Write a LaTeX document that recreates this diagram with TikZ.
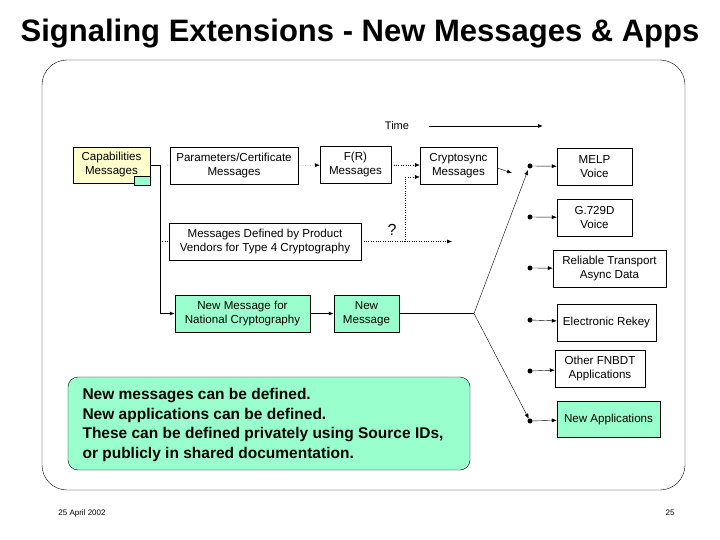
\documentclass[tikz,border=0pt]{standalone}
\usepackage{fontspec}
\setmainfont{Liberation Sans}
\usetikzlibrary{arrows.meta}
\definecolor{note}{HTML}{99FFCC}
\definecolor{capy}{HTML}{FFFFCC}
\begin{document}
\begin{tikzpicture}[x=1pt,y=-1pt,
 box/.style={draw,thin,align=center,font=\fontsize{11.6}{14}\selectfont,inner sep=1pt},
 dot/.style={circle,fill,inner sep=0pt,minimum size=5pt},
 arr/.style={-{Latex[length=5pt,width=4pt]}},
 dots/.style={dotted}]
\useasboundingbox (0,0) rectangle (720,540);
\node[font=\bfseries\fontsize{31}{34}\selectfont] (title) at (360,34) {Signaling Extensions - New Messages \& Apps};
\draw[rounded corners=25pt] (42,60) rectangle (685,490);
\node[font=\fontsize{11}{13}\selectfont] (time) at (397,126) {Time};
\coordinate (t1) at (429,126); \coordinate (t2) at (543,126);
\draw[arr,thick] (t1) -- (t2);
\node[box,fill=capy,minimum width=77,minimum height=36] (cap) at (111.5,165) {Capabilities\\Messages};
\node[draw,fill=note,minimum width=16,minimum height=9,inner sep=0] (capsq) at (142,180.5) {};
\node[box,minimum width=128,minimum height=37] (par) at (234,165.5) {Parameters/Certificate\\Messages};
\node[box,minimum width=71,minimum height=37] (fr) at (355.5,165) {F(R)\\Messages};
\node[box,minimum width=77,minimum height=37] (cs) at (458.5,165.5) {Cryptosync\\Messages};
\node[box,minimum width=192,minimum height=37] (mdp) at (265,241.5) {Messages Defined by Product\\Vendors for Type 4 Cryptography};
\node[box,fill=note,minimum width=135,minimum height=37] (nat) at (242.5,313.5) {New Message for\\National Cryptography};
\node[box,fill=note,minimum width=65,minimum height=37] (nm) at (366.5,313.5) {New\\Message};
\node[box,minimum width=75,minimum height=37] (melp) at (594.5,166.5) {MELP\\Voice};
\node[box,minimum width=75,minimum height=37] (g729) at (594.5,217.5) {G.729D\\Voice};
\node[box,minimum width=113,minimum height=37] (rel) at (609.5,268.5) {Reliable Transport\\Async Data};
\node[box,minimum width=99,minimum height=37] (rek) at (606.5,322.5) {Electronic Rekey};
\node[box,minimum width=90,minimum height=37] (oth) at (600,368.5) {Other FNBDT\\Applications};
\node[box,fill=note,minimum width=103,minimum height=36] (napp) at (608.5,419) {New Applications};
\node[draw,fill=note,rounded corners=10pt,minimum width=402,minimum height=93,inner sep=0] (notebox) at (269,423.5) {};
\node[font=\bfseries\fontsize{15.5}{19.5}\selectfont,align=left,anchor=west] (notetxt) at (79,425) {New messages can be defined.\\New applications can be defined.\\These can be defined privately using Source IDs,\\or publicly in shared documentation.};
\node[font=\fontsize{8}{9}\selectfont] (date) at (82,513) {25 April 2002};
\node[font=\fontsize{8}{9}\selectfont] (pg) at (670,513) {25};
\foreach \n/\y in {d1/166,d2/217,d3/268,d4/320,d5/371,d6/421} \node[dot] (\n) at (530,\y) {};
\draw[arr] (d1) -- (melp);
\draw[arr] (d2) -- (g729);
\draw[arr] (d3) -- (rel);
\draw[arr] (d4) -- (rek);
\draw[arr] (d5) -- (oth);
\draw[arr] (d6) -- (napp);
\coordinate (j) at (160,165);
\coordinate (jm) at (160,241.5);
\coordinate (jn) at (160,313.5);
\draw (cap.east |- j) -- (j);
\draw[dots] (j) -- (par);
\draw[thick,arr] (j) -- (jn) -- (nat);
\draw[dots] (jm) -- (mdp);
\draw[dots,arr] (par) -- (fr);
\draw[dots,arr] (fr) -- (cs.west |- fr);
\coordinate (q1) at (405,241.5); \coordinate (q2) at (452,241.5); \coordinate (q3) at (405,177);
\draw[dots,arr] (mdp) -- (q2);
\draw[dots,arr] (q1) -- (q3) -- (cs.west |- q3);
\node[font=\fontsize{16}{18}\selectfont] (qm) at (392,230) {?};
\coordinate (co) at (512,173);
\draw[arr] (cs.east |- 0,168) -- (co);
\draw[very thick,arr] (nat) -- (nm);
\coordinate (fan) at (474,313.5);
\draw (nm) -- (fan);
\draw[arr] (fan) -- (528,170);
\draw[arr] (fan) -- (d6);
\end{tikzpicture}
\end{document}
